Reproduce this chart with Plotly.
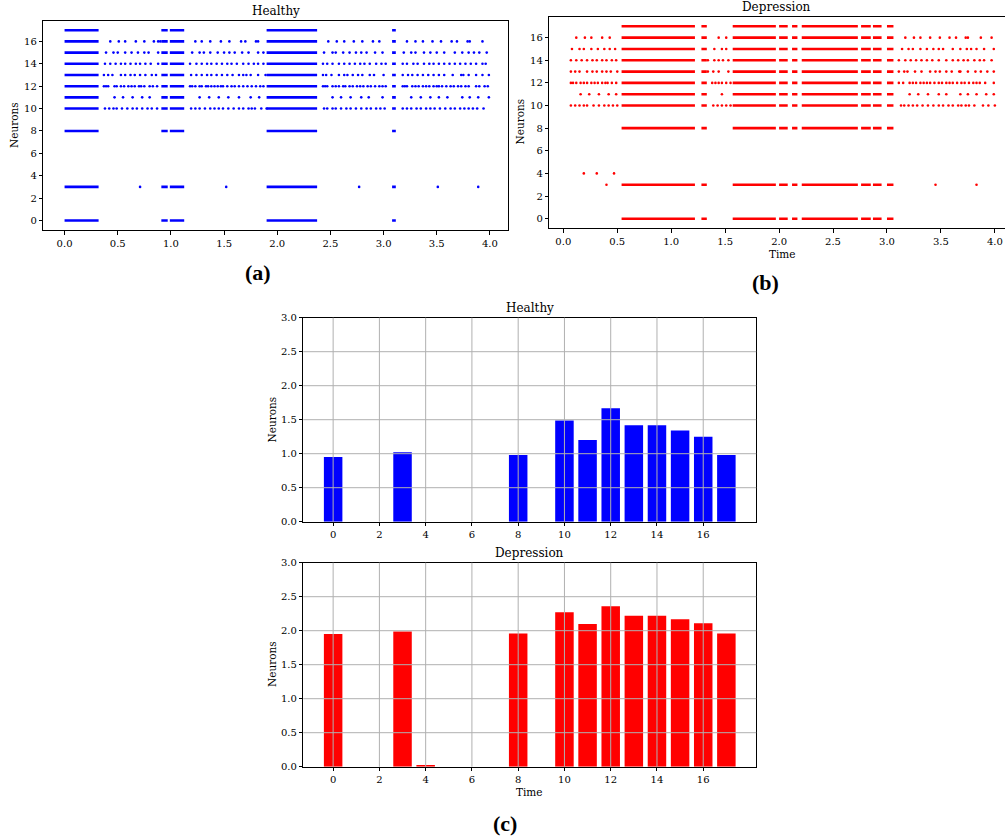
import plotly.graph_objects as go

W, H = 1005, 838

# ---------------- data ----------------
neuron_ids = list(range(18))
healthy_rate = [0.95, 0, 0, 1.02, 0, 0, 0, 0, 0.98, 0, 1.49, 1.20, 1.67, 1.42, 1.42, 1.34, 1.25, 0.98]
depression_rate = [1.95, 0, 0, 1.99, 0.025, 0, 0, 0, 1.96, 0, 2.27, 2.10, 2.36, 2.22, 2.22, 2.17, 2.11, 1.96]

# dense bursts (start / end times), shared by the listed neurons
healthy_burst_rows = [0, 3, 8, 10, 11, 12, 13, 14, 15, 16, 17]
healthy_burst_start = [0.0, 0.91, 0.99, 1.90, 3.08]
healthy_burst_end = [0.32, 0.97, 1.125, 2.375, 3.115]

depression_burst_rows = [0, 3, 8, 10, 11, 12, 13, 14, 15, 16, 17]
depression_burst_start = [0.54, 1.28, 1.57, 2.00, 2.12, 2.21, 2.76, 2.87, 3.00]
depression_burst_end = [1.22, 1.33, 1.97, 2.08, 2.17, 2.73, 2.85, 2.95, 3.06]

# isolated spikes (times) per neuron
healthy_n3 = [0.71, 1.52, 2.77, 3.51, 3.89]
healthy_n10 = [0.38, 0.42, 0.46, 0.49, 0.54, 0.59, 0.64, 0.68, 0.73, 0.78, 0.82, 0.87,
               1.19, 1.23, 1.27, 1.32, 1.37, 1.41, 1.45, 1.49, 1.54, 1.59, 1.64, 1.68, 1.73, 1.76, 1.79, 1.85, 1.90,
               2.44, 2.47, 2.52, 2.55, 2.60, 2.65, 2.69, 2.74, 2.79, 2.84, 2.88, 2.93, 2.97, 3.01,
               3.18, 3.22, 3.26, 3.31, 3.35, 3.40, 3.44, 3.48, 3.53, 3.58, 3.63, 3.67, 3.72, 3.76, 3.80, 3.84, 3.88, 3.94]
healthy_n11 = [0.47, 0.55, 0.64, 0.73, 0.80,
               1.27, 1.36, 1.45, 1.54, 1.64, 1.75, 1.83,
               2.52, 2.60, 2.69, 2.79, 2.86, 2.99,
               3.26, 3.35, 3.44, 3.52, 3.60, 3.74, 3.81, 3.89, 3.99]
healthy_n12 = [0.37, 0.39, 0.41, 0.47, 0.49, 0.53, 0.56, 0.60, 0.63, 0.66, 0.70, 0.72, 0.75, 0.80, 0.83, 0.87,
               1.18, 1.20, 1.23, 1.27, 1.29, 1.33, 1.35, 1.38, 1.41, 1.44, 1.47, 1.49, 1.53, 1.57, 1.60, 1.64,
               1.68, 1.72, 1.76, 1.80, 1.84, 1.87,
               2.43, 2.45, 2.47, 2.52, 2.55, 2.58, 2.62, 2.64, 2.68, 2.71, 2.75, 2.78, 2.81, 2.85, 2.88, 2.92,
               2.96, 2.99, 3.02,
               3.18, 3.20, 3.22, 3.27, 3.30, 3.33, 3.37, 3.40, 3.43, 3.47, 3.50, 3.52, 3.55, 3.59, 3.63, 3.66,
               3.70, 3.73, 3.77, 3.80, 3.87, 3.90, 3.95, 3.98]
healthy_n13 = [0.37, 0.41, 0.45, 0.53, 0.57, 0.62, 0.66, 0.71, 0.76, 0.82, 0.86,
               1.19, 1.24, 1.29, 1.34, 1.38, 1.43, 1.48, 1.53, 1.58, 1.64, 1.68, 1.71, 1.75, 1.82, 1.89,
               2.43, 2.46, 2.51, 2.58, 2.63, 2.66, 2.71, 2.76, 2.80, 2.87, 2.91, 3.00,
               3.18, 3.23, 3.27, 3.32, 3.37, 3.42, 3.47, 3.52, 3.57, 3.65, 3.73, 3.75, 3.80, 3.87, 3.93, 3.99]
healthy_n14 = [0.38, 0.43, 0.48, 0.53, 0.57, 0.62, 0.67, 0.71, 0.76, 0.81, 0.88,
               1.18, 1.24, 1.29, 1.34, 1.38, 1.43, 1.48, 1.53, 1.57, 1.62, 1.68, 1.73, 1.78, 1.82, 1.87,
               2.43, 2.47, 2.52, 2.58, 2.63, 2.68, 2.73, 2.78, 2.82, 2.87, 2.93, 2.98, 3.02,
               3.18, 3.22, 3.28, 3.32, 3.38, 3.43, 3.47, 3.52, 3.57, 3.62, 3.67, 3.72, 3.77, 3.82, 3.87, 3.93, 3.96]
healthy_n15 = [0.39, 0.46, 0.50, 0.57, 0.63, 0.69, 0.75, 0.79, 0.88,
               1.20, 1.27, 1.31, 1.37, 1.44, 1.50, 1.55, 1.60, 1.67, 1.73, 1.82, 1.87,
               2.44, 2.52, 2.55, 2.62, 2.68, 2.74, 2.79, 2.84, 2.92, 2.99,
               3.19, 3.26, 3.30, 3.38, 3.44, 3.50, 3.57, 3.67, 3.74, 3.80, 3.85, 3.90, 3.97]
healthy_n16 = [0.43, 0.51, 0.57, 0.67, 0.75, 0.84, 0.88, 0.90,
               1.23, 1.29, 1.37, 1.47, 1.55, 1.66, 1.70, 1.80, 1.82,
               2.48, 2.56, 2.63, 2.72, 2.80, 2.90, 2.96,
               3.22, 3.30, 3.37, 3.46, 3.54, 3.64, 3.69, 3.79, 3.81, 3.93]

depression_n3 = [0.40, 3.45, 3.83]
depression_n4 = [0.19, 0.31, 0.47]
depression_n10 = [0.07, 0.11, 0.15, 0.19, 0.22, 0.28, 0.33, 0.38, 0.42, 0.46, 0.50,
                  1.39, 1.43, 1.47, 1.51, 1.55,
                  3.13, 3.16, 3.20, 3.24, 3.28, 3.33, 3.38, 3.43, 3.48, 3.52, 3.57, 3.61, 3.66, 3.69, 3.73,
                  3.76, 3.81, 3.89, 3.94, 4.00]
depression_n11 = [0.16, 0.24, 0.33, 0.42, 0.49,
                  1.47,
                  3.21, 3.29, 3.38, 3.48, 3.55, 3.68, 3.75, 3.83, 3.92, 3.99]
depression_n12 = [0.07, 0.09, 0.12, 0.16, 0.19, 0.22, 0.26, 0.29, 0.32, 0.36, 0.39, 0.41, 0.45, 0.49,
                  1.38, 1.41, 1.44, 1.47, 1.51, 1.55,
                  3.11, 3.15, 3.21, 3.24, 3.27, 3.31, 3.34, 3.37, 3.40, 3.44, 3.48, 3.51, 3.55, 3.58, 3.61,
                  3.65, 3.69, 3.72, 3.76, 3.80, 3.83, 3.86, 3.91, 3.99]
depression_n13 = [0.07, 0.11, 0.15, 0.22, 0.27, 0.31, 0.36, 0.40, 0.44, 0.50,
                  1.34, 1.39, 1.44, 1.53,
                  3.11, 3.16, 3.19, 3.26, 3.32, 3.40, 3.45, 3.49, 3.55, 3.60, 3.67, 3.68, 3.75, 3.82, 3.87, 3.93, 3.99]
depression_n14 = [0.07, 0.12, 0.17, 0.22, 0.27, 0.31, 0.36, 0.40, 0.45, 0.49,
                  1.34, 1.40, 1.44, 1.48, 1.53,
                  3.11, 3.17, 3.22, 3.27, 3.32, 3.37, 3.42, 3.48, 3.55, 3.61, 3.66, 3.71, 3.75, 3.81, 3.86, 3.90, 3.97]
depression_n15 = [0.08, 0.15, 0.19, 0.26, 0.32, 0.38, 0.43, 0.48,
                  1.40, 1.47, 1.51,
                  3.14, 3.20, 3.24, 3.31, 3.37, 3.43, 3.48, 3.52, 3.61, 3.68, 3.74, 3.78, 3.83, 3.90, 3.99]
depression_n16 = [0.12, 0.20, 0.26, 0.36, 0.43,
                  1.44, 1.51,
                  3.17, 3.25, 3.31, 3.40, 3.49, 3.58, 3.64, 3.73, 3.75, 3.87, 3.97]

healthy_sparse = {3: healthy_n3, 10: healthy_n10, 11: healthy_n11, 12: healthy_n12, 13: healthy_n13,
                  14: healthy_n14, 15: healthy_n15, 16: healthy_n16}
depression_sparse = {3: depression_n3, 4: depression_n4, 10: depression_n10, 11: depression_n11,
                     12: depression_n12, 13: depression_n13, 14: depression_n14, 15: depression_n15,
                     16: depression_n16}

BLUE = "#0000ff"
RED = "#ff0000"
FONT = "DejaVu Serif"


def px_x(p):
    return p / W


def px_y(p):
    return 1 - p / H


fig = go.Figure()


def add_raster(rows, starts, ends, sparse, color, xa, ya):
    xs, ys = [], []
    for r in rows:
        for s, e in zip(starts, ends):
            xs += [s, e, None]
            ys += [r, r, None]
    fig.add_trace(go.Scatter(x=xs, y=ys, mode="lines", line=dict(color=color, width=2.6),
                             xaxis=xa, yaxis=ya, showlegend=False, hoverinfo="skip"))
    sx, sy = [], []
    for r, times in sparse.items():
        sx += times
        sy += [r] * len(times)
    fig.add_trace(go.Scatter(x=sx, y=sy, mode="markers",
                             marker=dict(color=color, size=2.6, symbol="circle", line=dict(width=0)),
                             xaxis=xa, yaxis=ya, showlegend=False, hoverinfo="skip"))


add_raster(healthy_burst_rows, healthy_burst_start, healthy_burst_end, healthy_sparse, BLUE, "x", "y")
add_raster(depression_burst_rows, depression_burst_start, depression_burst_end, depression_sparse, RED, "x2", "y2")

fig.add_trace(go.Bar(x=neuron_ids, y=healthy_rate, width=0.8, marker=dict(color=BLUE, line=dict(width=0)),
                     xaxis="x3", yaxis="y3", showlegend=False))
fig.add_trace(go.Bar(x=neuron_ids, y=depression_rate, width=0.8, marker=dict(color=RED, line=dict(width=0)),
                     xaxis="x4", yaxis="y4", showlegend=False))

tickfont = dict(family=FONT, size=10, color="black")
axcommon = dict(showline=True, linecolor="black", linewidth=1, ticks="outside", ticklen=3.5,
                tickwidth=1, tickcolor="black", tickfont=tickfont, showgrid=False, zeroline=False,
                automargin=False)

# domains in window pixels
A = dict(x0=43.3, x1=508, y0=20.7, y1=230)
B = dict(x0=549.3, x1=1005, y0=16.7, y1=228.3)
C = dict(x0=303.3, x1=756.2, y0=317.7, y1=521.7)
D = dict(x0=303.3, x1=756.2, y0=562.7, y1=766.7)


def dom(d):
    return [px_x(d["x0"]), min(1.0, px_x(d["x1"]))], [px_y(d["y1"]), px_y(d["y0"])]


xa, ya = dom(A)
fig.update_layout(
    xaxis=dict(domain=xa, range=[-0.2, 4.17], tickvals=[0, 0.5, 1, 1.5, 2, 2.5, 3, 3.5, 4],
               tickformat=".1f", mirror=True, anchor="y", **axcommon),
    yaxis=dict(domain=ya, range=[-0.85, 17.85], tickvals=list(range(0, 17, 2)), mirror=True,
               anchor="x", **axcommon),
)
xb, yb = dom(B)
fig.update_layout(
    xaxis2=dict(domain=xb, range=[-0.13, 4.094], tickvals=[0, 0.5, 1, 1.5, 2, 2.5, 3, 3.5, 4],
                tickformat=".1f", mirror=True, anchor="y2", **axcommon),
    yaxis2=dict(domain=yb, range=[-0.85, 17.85], tickvals=list(range(0, 17, 2)), mirror=False,
                anchor="x2", **axcommon),
)
for i, d in ((3, C), (4, D)):
    xd, yd = dom(d)
    fig.update_layout(**{
        f"xaxis{i}": dict(domain=xd, range=[-1.29, 18.29], tickvals=list(range(0, 17, 2)),
                          mirror=True, anchor=f"y{i}", **axcommon),
        f"yaxis{i}": dict(domain=yd, range=[0, 3.0], tickvals=[0, 0.5, 1, 1.5, 2, 2.5, 3],
                          tickformat=".1f", mirror=True, anchor=f"x{i}", **axcommon),
    })

# grid lines above the bars (as in the reference)
shapes = []
for i in (3, 4):
    for v in range(0, 17, 2):
        shapes.append(dict(type="line", xref=f"x{i}", yref=f"y{i} domain", x0=v, x1=v, y0=0, y1=1,
                           line=dict(color="#b0b0b0", width=1), layer="above"))
    for v in [0.5, 1.0, 1.5, 2.0, 2.5]:
        shapes.append(dict(type="line", xref=f"x{i} domain", yref=f"y{i}", x0=0, x1=1, y0=v, y1=v,
                           line=dict(color="#b0b0b0", width=1), layer="above"))

annotations = []


def ann(text, x, y, size=12, angle=0, bold=False, family=FONT, xanchor="center", yanchor="middle"):
    annotations.append(dict(text=f"<b>{text}</b>" if bold else text, x=px_x(x), y=px_y(y),
                            xref="paper", yref="paper", showarrow=False, textangle=angle,
                            font=dict(family=family, size=size, color="black"),
                            xanchor=xanchor, yanchor=yanchor))


ann("Healthy", (A["x0"] + A["x1"]) / 2, 10.5, size=12)
ann("Depression", 776, 7, size=12)
ann("Healthy", (C["x0"] + C["x1"]) / 2, 307.5, size=12)
ann("Depression", (D["x0"] + D["x1"]) / 2, 552.5, size=12)
ann("Neurons", 13.5, 125.5, size=10.5, angle=-90)
ann("Neurons", 519.5, 122, size=10.5, angle=-90)
ann("Neurons", 271.5, 420, size=10.5, angle=-90)
ann("Neurons", 271.5, 664.5, size=10.5, angle=-90)
ann("Time", 782, 254, size=10.5)
ann("Time", (D["x0"] + D["x1"]) / 2, 792, size=10.5)
ann("(a)", 258, 272, size=22, bold=True, family="Liberation Serif")
ann("(b)", 765, 282, size=22, bold=True, family="Liberation Serif")
ann("(c)", 505, 823, size=22, bold=True, family="Liberation Serif")

fig.update_layout(width=W, height=H, margin=dict(l=0, r=0, t=0, b=0),
                  paper_bgcolor="white", plot_bgcolor="white",
                  shapes=shapes, annotations=annotations, showlegend=False,
                  font=dict(family=FONT), hovermode=False)

# remove the browser's default 8px body margin so the figure fills the window exactly
fig.write_html("out.html", config={"displayModeBar": False, "staticPlot": True},
               post_script="document.body.style.margin='0';document.body.style.overflow='hidden';")
